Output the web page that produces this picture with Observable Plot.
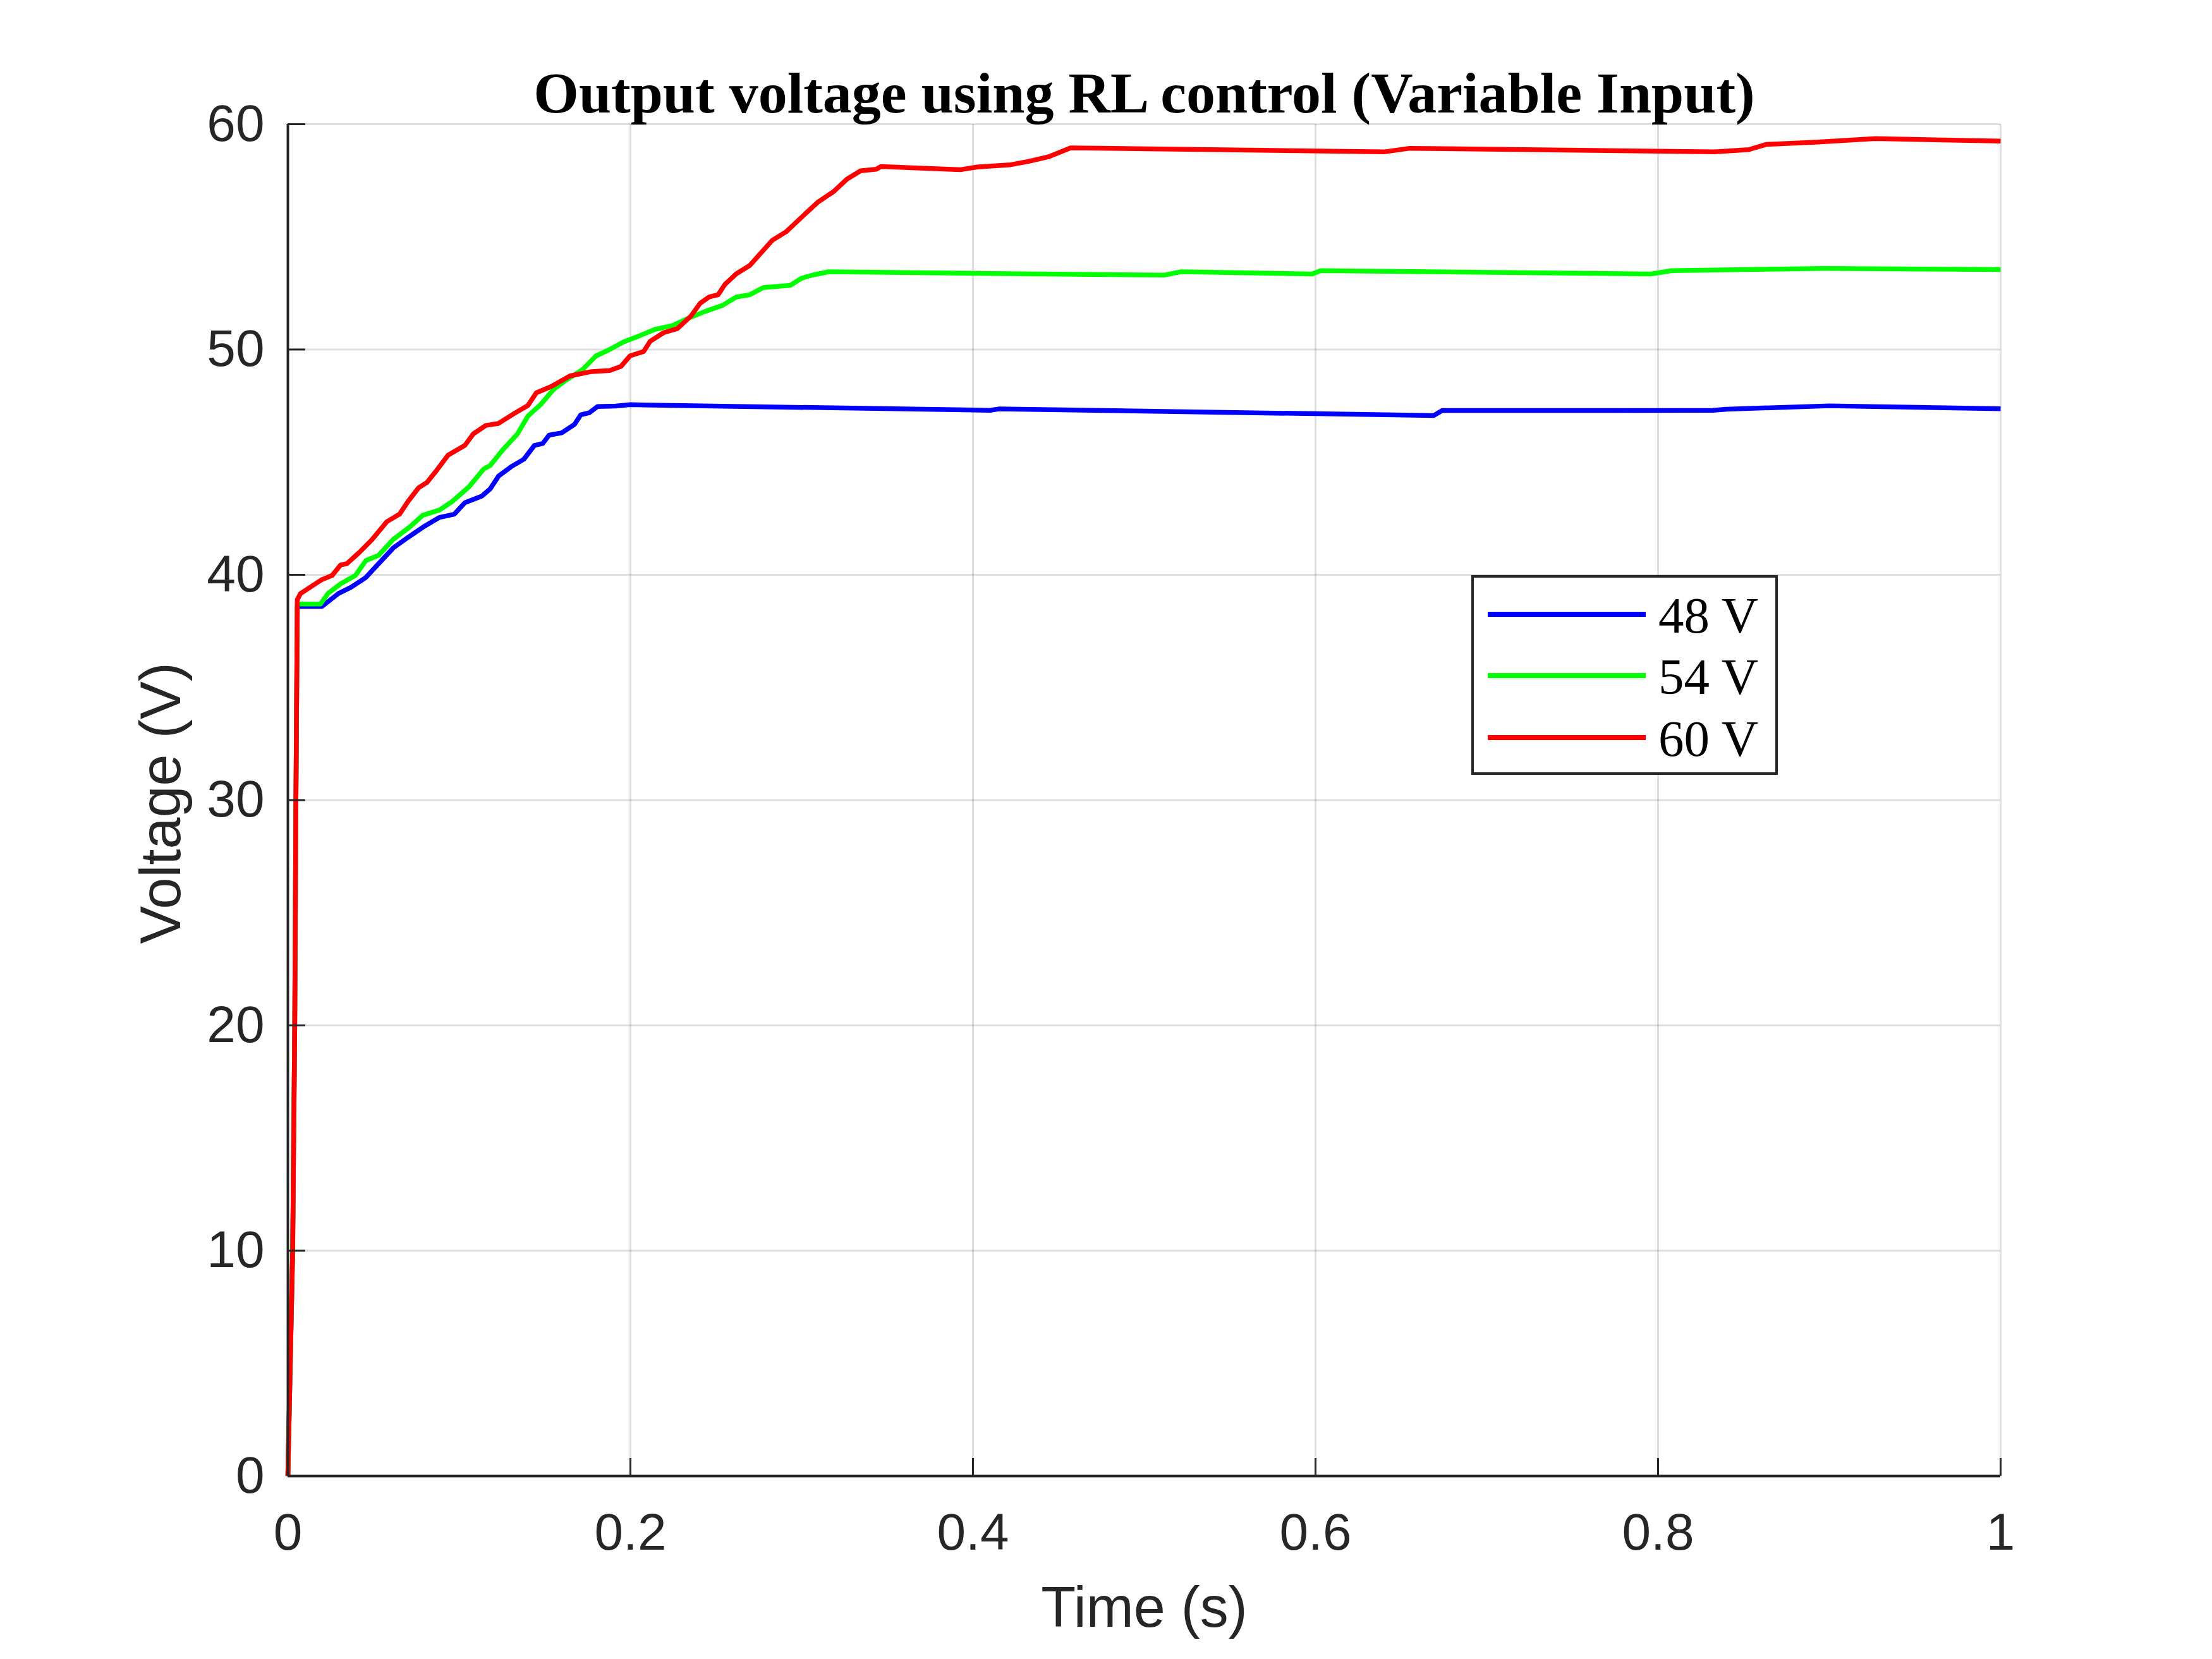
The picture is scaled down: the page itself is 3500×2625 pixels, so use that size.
<!DOCTYPE html>
<html>
<head>
<meta charset="utf-8">
<script src="https://cdn.jsdelivr.net/npm/d3@7"></script>
<script src="https://cdn.jsdelivr.net/npm/@observablehq/plot@0.6"></script>
<style>
  html, body { margin: 0; padding: 0; background: #ffffff; }
  #chart svg { display: block; }
</style>
</head>
<body>
<div id="chart"></div>
<script>
// ---- Data ----
const seriesNames = ["48 V", "54 V", "60 V"];
const seriesColors = ["#0000ff", "#00ff00", "#ff0000"];

const t48 = [0, 0.0028, 0.004, 0.0047, 0.0055, 0.02, 0.0295, 0.0369, 0.0455, 0.0517, 0.0615, 0.0701, 0.08, 0.0886, 0.0972, 0.1033, 0.1132, 0.1181, 0.123, 0.1304, 0.1378, 0.1439, 0.1488, 0.1525, 0.1599, 0.1673, 0.171, 0.1759, 0.1808, 0.1913, 0.2, 0.41, 0.415, 0.6, 0.669, 0.674, 0.832, 0.84, 0.9, 1.0];
const v48 = [0, 10, 20, 30, 38.6, 38.6, 39.17, 39.45, 39.88, 40.39, 41.19, 41.66, 42.17, 42.55, 42.69, 43.2, 43.49, 43.81, 44.38, 44.8, 45.13, 45.74, 45.83, 46.2, 46.3, 46.67, 47.1, 47.19, 47.47, 47.49, 47.55, 47.3, 47.36, 47.15, 47.07, 47.29, 47.3, 47.35, 47.5, 47.37];

const t54 = [0, 0.0028, 0.004, 0.0047, 0.0055, 0.019, 0.0234, 0.0308, 0.0394, 0.0455, 0.0529, 0.0615, 0.0713, 0.0787, 0.0886, 0.0959, 0.1058, 0.1144, 0.1181, 0.1255, 0.134, 0.1402, 0.1476, 0.155, 0.1624, 0.1721, 0.18, 0.1879, 0.1958, 0.2037, 0.2143, 0.2248, 0.2327, 0.2433, 0.2538, 0.2618, 0.2697, 0.2776, 0.2934, 0.3001, 0.3067, 0.3159, 0.40, 0.5115, 0.5215, 0.598, 0.603, 0.796, 0.808, 0.897, 1.0];
const v54 = [0, 10, 20, 30, 38.7, 38.7, 39.17, 39.6, 39.97, 40.63, 40.86, 41.57, 42.13, 42.64, 42.88, 43.25, 43.91, 44.7, 44.85, 45.55, 46.25, 47.05, 47.56, 48.22, 48.64, 49.11, 49.72, 50.0, 50.33, 50.56, 50.89, 51.07, 51.35, 51.68, 51.96, 52.33, 52.43, 52.75, 52.85, 53.17, 53.31, 53.45, 53.38, 53.3, 53.45, 53.35, 53.5, 53.35, 53.5, 53.6, 53.55];

const t60 = [0, 0.0028, 0.004, 0.0047, 0.0055, 0.0074, 0.0197, 0.0258, 0.0308, 0.0344, 0.0418, 0.0492, 0.0578, 0.0652, 0.0701, 0.0763, 0.0812, 0.0861, 0.0935, 0.1033, 0.1082, 0.1156, 0.123, 0.1328, 0.1402, 0.1451, 0.1538, 0.1648, 0.1774, 0.1879, 0.1945, 0.1998, 0.2077, 0.2116, 0.2195, 0.2275, 0.2354, 0.2407, 0.2459, 0.2512, 0.2552, 0.2618, 0.2697, 0.2763, 0.2829, 0.2908, 0.3001, 0.3093, 0.3185, 0.3264, 0.3344, 0.3436, 0.3462, 0.3926, 0.4025, 0.422, 0.432, 0.444, 0.457, 0.64, 0.655, 0.833, 0.853, 0.863, 0.892, 0.927, 1.0];
const v60 = [0, 10, 20, 30, 38.9, 39.17, 39.78, 39.97, 40.44, 40.49, 41.0, 41.57, 42.36, 42.69, 43.25, 43.86, 44.1, 44.56, 45.31, 45.74, 46.25, 46.63, 46.72, 47.19, 47.52, 48.08, 48.36, 48.83, 49.02, 49.07, 49.25, 49.72, 49.91, 50.37, 50.75, 50.93, 51.49, 52.05, 52.33, 52.43, 52.89, 53.36, 53.73, 54.29, 54.85, 55.22, 55.88, 56.53, 57.0, 57.56, 57.93, 58.0, 58.12, 57.98, 58.1, 58.2, 58.34, 58.55, 58.95, 58.77, 58.93, 58.77, 58.87, 59.1, 59.2, 59.36, 59.25];

const xTicks = [0, 0.2, 0.4, 0.6, 0.8, 1];
const yTicks = [0, 10, 20, 30, 40, 50, 60];

const titleText = "Output voltage using RL control (Variable Input)";
const xLabel = "Time (s)";
const yLabel = "Voltage (V)";

// ---- Build table ----
const rows = [];
[[t48, v48], [t54, v54], [t60, v60]].forEach(([ts, vs], i) => {
  if (ts.length !== vs.length) throw new Error("length mismatch in " + seriesNames[i]);
  ts.forEach((t, j) => rows.push({series: seriesNames[i], t, v: vs[j]}));
});

// ---- Layout ----
const W = 3500, H = 2625;
const mL = 455, mR = 335, mT = 196, mB = 290;
const frameW = W - mL - mR, frameH = H - mT - mB;
const axisColor = "#262626";
const tickLen = 28;

const plot = Plot.plot({
  width: W,
  height: H,
  marginLeft: mL,
  marginRight: mR,
  marginTop: mT,
  marginBottom: mB,
  style: {fontFamily: "'Liberation Sans', Arial, Helvetica, sans-serif", fontSize: "82px", color: axisColor, background: "#ffffff"},
  x: {domain: [0, 1], label: null},
  y: {domain: [0, 60], label: null},
  color: {domain: seriesNames, range: seriesColors},
  marks: [
    // grid
    Plot.ruleX(xTicks, {stroke: axisColor, strokeOpacity: 0.15, strokeWidth: 3}),
    Plot.ruleY(yTicks, {stroke: axisColor, strokeOpacity: 0.15, strokeWidth: 3}),
    // data lines
    Plot.line(rows, {x: "t", y: "v", z: "series", stroke: "series", strokeWidth: 7.5, strokeLinejoin: "round", strokeLinecap: "butt"}),
    // axis lines
    Plot.ruleX([0], {stroke: axisColor, strokeWidth: 4}),
    Plot.ruleY([0], {stroke: axisColor, strokeWidth: 4}),
    // inward ticks
    Plot.ruleX(xTicks, {stroke: axisColor, strokeWidth: 3, insetTop: frameH - tickLen}),
    Plot.ruleY(yTicks, {stroke: axisColor, strokeWidth: 3, insetRight: frameW - tickLen}),
    // tick labels
    Plot.axisX(xTicks, {tickSize: 0, tickPadding: 58, label: null, tickFormat: d => String(d), fontSize: 82}),
    Plot.axisY(yTicks, {tickSize: 0, tickPadding: 37, label: null, tickFormat: d => String(d), fontSize: 82}),
    // axis titles
    Plot.text([xLabel], {frameAnchor: "bottom", lineAnchor: "bottom", textAnchor: "middle", dy: 238, fontSize: 90, fill: axisColor, text: d => d}),
    Plot.text([yLabel], {frameAnchor: "left", lineAnchor: "bottom", textAnchor: "middle", rotate: -90, dx: -171, dy: 5, fontSize: 90, fill: axisColor, text: d => d}),
    // title
    Plot.text([titleText], {frameAnchor: "top", lineAnchor: "bottom", textAnchor: "middle", dy: -19, fontSize: 92, fontWeight: "bold", fontFamily: "'Liberation Serif', 'Times New Roman', serif", fill: "#000000", text: d => d})
  ]
});

// ---- Legend (drawn inside the SVG) ----
const svg = d3.select(plot);
const lg = svg.append("g").attr("class", "legend").attr("text-anchor", "start");
const box = {x: 2330, y: 912, w: 481, h: 312};
lg.append("rect")
  .attr("x", box.x).attr("y", box.y).attr("width", box.w).attr("height", box.h)
  .attr("fill", "#ffffff").attr("stroke", axisColor).attr("stroke-width", 4);
const rowY = [972, 1069, 1167];
seriesNames.forEach((name, i) => {
  lg.append("line")
    .attr("x1", 2354).attr("x2", 2604).attr("y1", rowY[i]).attr("y2", rowY[i])
    .attr("stroke", seriesColors[i]).attr("stroke-width", 8);
  lg.append("text")
    .attr("x", 2624).attr("y", rowY[i] + 29)
    .attr("text-anchor", "start")
    .attr("font-family", "'Liberation Serif', 'Times New Roman', serif")
    .attr("font-size", 81).attr("fill", "#000000")
    .text(name);
});

document.getElementById("chart").appendChild(plot);
</script>
</body>
</html>
